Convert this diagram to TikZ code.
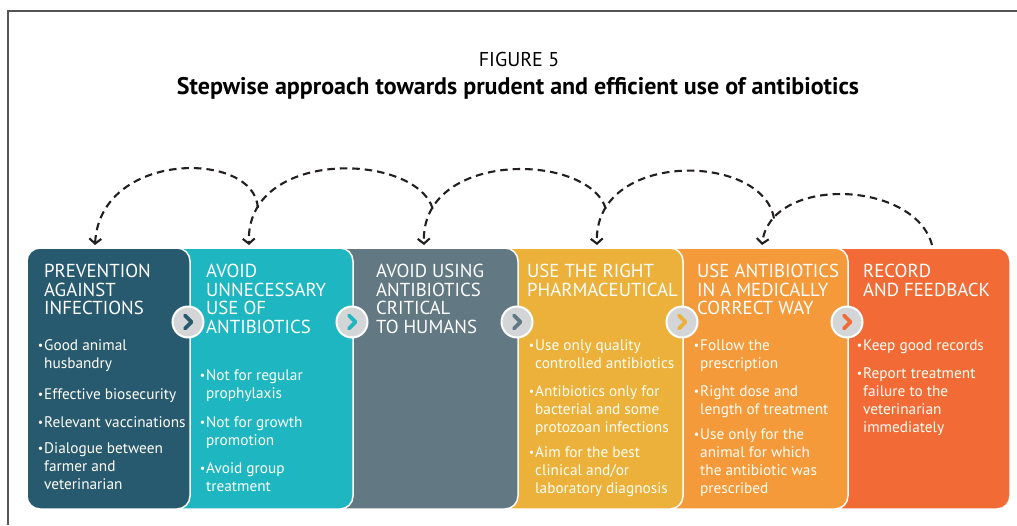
\documentclass[tikz,border=0pt]{standalone}
\usepackage{fontspec}
\setmainfont{PT Sans}
\usetikzlibrary{arrows.meta}
\definecolor{cA}{HTML}{27596F}
\definecolor{cB}{HTML}{1DB6C1}
\definecolor{cC}{HTML}{627882}
\definecolor{cD}{HTML}{EBB13A}
\definecolor{cE}{HTML}{F59A3B}
\definecolor{cF}{HTML}{F26B36}
\definecolor{ink}{HTML}{231F20}
\definecolor{frame}{HTML}{555555}
\definecolor{knob}{HTML}{D3D5D6}
\tikzset{
  box/.style={draw=white, line width=1.5pt, rounded corners=13pt},
  head/.style={anchor=base west, text=white, inner sep=0pt,
    font=\fontsize{18.8}{18.7}\selectfont},
  bul/.style={anchor=base west, text=white!96!yellow, inner sep=0pt,
    font=\fontsize{15.3}{18}\selectfont},
  knobc/.style={circle, fill=knob, draw=white, line width=2pt, minimum size=31pt, inner sep=0pt},
  chev/.style={line width=3.6pt, line cap=round, line join=round},
  arc/.style={draw=ink, line width=2.1pt, dash pattern=on 7.5pt off 5pt,
    -{Straight Barb[length=5pt,width=12pt]}},
  ttl/.style={anchor=base, inner sep=0pt, text=black}
}
\newcommand{\ml}[1]{\begin{tabular}[t]{@{}l@{}}#1\end{tabular}}
\newcommand{\bl}{\llap{\raisebox{0.3pt}{\fontsize{12}{12}\selectfont\textbullet}\hspace{0.8pt}}}
\begin{document}
\begin{tikzpicture}[x=1pt,y=-1pt]
\useasboundingbox (0,0) rectangle (1017,525);
\fill[white] (0,0) rectangle (1017,525);
% frame
\draw[frame, line width=1.4pt] (8,525) -- (8,11) -- (1017,11);
% titles
\node[ttl, font=\fontsize{20}{20}\selectfont] (fig) at (519,66) {FIGURE 5};
\node[ttl, font=\fontsize{24}{24}\selectfont\bfseries] (title) at (518,94) {Stepwise approach towards prudent and efficient use of antibiotics};
% boxes (drawn right to left so each overlaps the next)
\path[box, fill=cF] (828,248) rectangle (1010,509);
\path[box, fill=cE] (663,248) rectangle (848,509);
\path[box, fill=cD] (498,248) rectangle (683,509);
\path[box, fill=cC] (333,248) rectangle (518,509);
\path[box, fill=cB] (170,248) rectangle (353,509);
\path[box, fill=cA] (27,248) rectangle (190,509);
% knobs
\node[knobc] (k1) at (188,322) {};
\node[knobc] (k2) at (352,322) {};
\node[knobc] (k3) at (517,322) {};
\node[knobc] (k4) at (682,322) {};
\node[knobc] (k5) at (847,322) {};
\foreach \k/\c in {k1/cA,k2/cB,k3/cC,k4/cD,k5/cF}{
  \draw[chev, draw=\c] ([shift={(-3,-6.5)}]\k.center) -- ([shift={(3.5,0)}]\k.center) -- ([shift={(-3,6.5)}]\k.center);
}
% headings
\node[head] (h1) at (44,277) {\ml{PREVENTION\\AGAINST\\INFECTIONS}};
\node[head] (h2) at (206,277) {\ml{AVOID\\UNNECESSARY\\USE OF\\ANTIBIOTICS}};
\node[head] (h3) at (376,277) {\ml{AVOID USING\\ANTIBIOTICS\\CRITICAL\\TO HUMANS}};
\node[head] (h4) at (527,277) {\ml{USE THE RIGHT\\PHARMACEUTICAL}};
\node[head] (h5) at (697,277) {\ml{USE ANTIBIOTICS\\IN A MEDICALLY\\CORRECT WAY}};
\node[head] (h6) at (863,277) {\ml{RECORD\\AND FEEDBACK}};
% bullets box 1
\node[bul] (b11) at (44,350) {\ml{\bl Good animal\\husbandry}};
\node[bul] (b12) at (44,399) {\ml{\bl Effective biosecurity}};
\node[bul] (b13) at (44,427) {\ml{\bl Relevant vaccinations}};
\node[bul] (b14) at (44,453) {\ml{\bl Dialogue between\\farmer and\\veterinarian}};
% box 2
\node[bul] (b21) at (206,380) {\ml{\bl Not for regular\\prophylaxis}};
\node[bul] (b22) at (206,427) {\ml{\bl Not for growth\\promotion}};
\node[bul] (b23) at (206,473) {\ml{\bl Avoid group\\treatment}};
% box 4
\node[bul] (b41) at (535,350) {\ml{\bl Use only quality\\controlled antibiotics}};
\node[bul] (b42) at (535,396) {\ml{\bl Antibiotics only for\\bacterial and some\\protozoan infections}};
\node[bul] (b43) at (535,457) {\ml{\bl Aim for the best\\clinical and/or\\laboratory diagnosis}};
% box 5
\node[bul] (b51) at (700,350) {\ml{\bl Follow the\\prescription}};
\node[bul] (b52) at (700,396) {\ml{\bl Right dose and\\length of treatment}};
\node[bul] (b53) at (700,439) {\ml{\bl Use only for the\\animal for which\\the antibiotic was\\prescribed}};
% box 6
\node[bul] (b61) at (863,350) {\ml{\bl Keep good records}};
\node[bul] (b62) at (863,378) {\ml{\bl Report treatment\\failure to the\\veterinarian\\immediately}};
% dashed feedback arcs
\coordinate (s6) at (932,245);
\coordinate (t5) at (762,245);
\coordinate (t4) at (597,245);
\coordinate (t3) at (424,245);
\coordinate (t2) at (249,245);
\coordinate (t1) at (95,245);
\draw[arc] (s6) .. controls (915,180) and (770,175) .. coordinate[pos=0.85] (j5) (t5);
\draw[arc] (j5) .. controls (763,152) and (593,150) .. coordinate[pos=0.85] (j4) (t4);
\draw[arc] (j4) .. controls (588,152) and (420,150) .. coordinate[pos=0.85] (j3) (t3);
\draw[arc] (j3) .. controls (415,152) and (245,148) .. coordinate[pos=0.85] (j2) (t2);
\draw[arc] (j2) .. controls (255,150) and (100,150) .. (t1);
\end{tikzpicture}
\end{document}
